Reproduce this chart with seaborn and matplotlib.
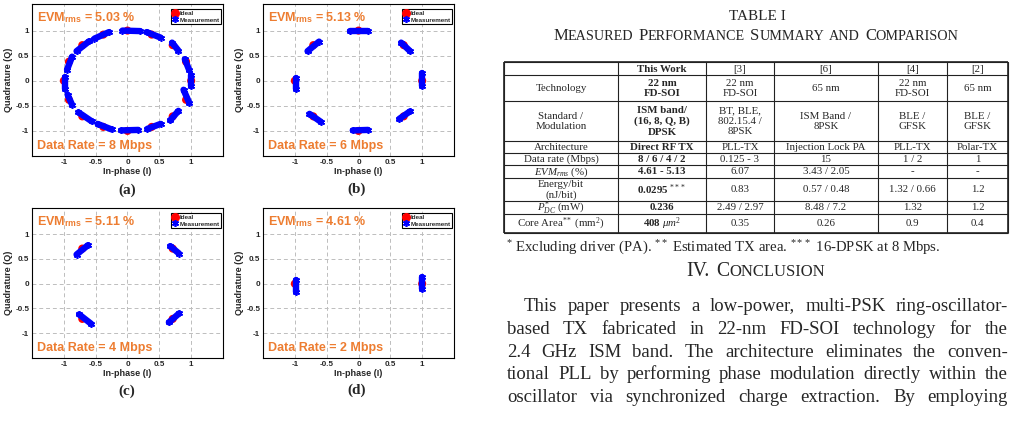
import re
import matplotlib
matplotlib.use("Agg")
import pandas as pd
import matplotlib.pyplot as plt
import seaborn as sns
from matplotlib.lines import Line2D

# -------------------- constellation data --------------------
# ideal symbol positions
a_ideal_i = [1.0, 0.92, 0.71, 0.38, 0.0, -0.38, -0.71, -0.92, -1.0, -0.92, -0.71, -0.38, 0.0, 0.38, 0.71, 0.92]
a_ideal_q = [0.0, 0.38, 0.71, 0.92, 1.0, 0.92, 0.71, 0.38, 0.0, -0.38, -0.71, -0.92, -1.0, -0.92, -0.71, -0.38]
b_ideal_i = [1.0, 0.71, 0.0, -0.71, -1.0, -0.71, 0.0, 0.71]
b_ideal_q = [0.0, 0.71, 1.0, 0.71, 0.0, -0.71, -1.0, -0.71]
c_ideal_i = [0.71, -0.71, -0.71, 0.71]
c_ideal_q = [0.71, 0.71, -0.71, -0.71]
d_ideal_i = [1.0, -1.0]
d_ideal_q = [0.0, 0.0]

# measured clusters: each one is a smeared streak, start (i0, q0) -> end (i1, q1)
a_i0 = [0.99, 0.90, 0.70, 0.30, -0.08, -0.52, -0.80, -0.95, -0.98, -0.94, -0.77, -0.47, -0.10, 0.31, 0.67, 0.88]
a_q0 = [0.12, 0.43, 0.76, 0.97, 1.00, 0.84, 0.59, 0.22, 0.08, -0.28, -0.63, -0.86, -0.99, -0.96, -0.79, -0.18]
a_i1 = [0.99, 0.97, 0.80, 0.52, 0.20, -0.29, -0.60, -0.87, -0.98, -0.87, -0.56, -0.25, 0.17, 0.52, 0.80, 0.97]
a_q1 = [-0.10, 0.21, 0.60, 0.86, 0.99, 0.97, 0.79, 0.48, -0.17, -0.48, -0.81, -0.97, -0.98, -0.86, -0.60, -0.44]

b_i0 = [0.99, 0.67, -0.13, -0.80, -0.98, -0.77, -0.09, 0.64]
b_q0 = [0.15, 0.76, 0.99, 0.59, 0.05, -0.66, -0.99, -0.76]
b_i1 = [0.99, 0.81, 0.15, -0.62, -0.98, -0.59, 0.15, 0.81]
b_q1 = [-0.10, 0.59, 0.99, 0.78, -0.17, -0.82, -0.98, -0.61]

c_i0 = [0.67, -0.80, -0.76, 0.65]
c_q0 = [0.76, 0.59, -0.62, -0.78]
c_i1 = [0.81, -0.62, -0.57, 0.81]
c_q1 = [0.61, 0.78, -0.81, -0.60]

d_i0 = [0.99, -0.98]
d_q0 = [0.13, 0.08]
d_i1 = [0.99, -0.98]
d_q1 = [-0.10, -0.17]

evm_values = ["5.03", "5.13", "5.11", "4.61"]
data_rates = ["8", "6", "4", "2"]
panel_tags = ["(a)", "(b)", "(c)", "(d)"]
tick_vals = [-1, -0.5, 0, 0.5, 1]
tick_labs = ["-1", "-0.5", "0", "0.5", "1"]

# -------------------- table data --------------------
table_header = ["", "This Work", "[3]", "[6]", "[4]", "[2]"]
row_labels = ["Technology", "Standard /\nModulation", "Architecture", "Data rate (Mbps)",
              "$EVM_{rms}$ (%)", "Energy/bit\n(nJ/bit)", "$P_{DC}^{*}$ (mW)",
              "Core Area$^{**}$ (mm$^2$)"]
this_work = ["22 nm\nFD-SOI", "ISM band/\n(16, 8, Q, B)\nDPSK", "Direct RF TX", "8 / 6 / 4 / 2",
             "4.61 - 5.13", "0.0295 $^{***}$", "0.236", "408 $\\mu m^2$"]
ref3 = ["22 nm\nFD-SOI", "BT, BLE,\n802.15.4 /\n8PSK", "PLL-TX", "0.125 - 3", "6.07", "0.83",
        "2.49 / 2.97", "0.35"]
ref6 = ["65 nm", "ISM Band /\n8PSK", "Injection Lock PA", "15", "3.43 / 2.05", "0.57 / 0.48",
        "8.48 / 7.2", "0.26"]
ref4 = ["22 nm\nFD-SOI", "BLE /\nGFSK", "PLL-TX", "1 / 2", "-", "1.32 / 0.66", "1.32", "0.9"]
ref2 = ["65 nm", "BLE /\nGFSK", "Polar-TX", "1", "-", "1.2", "1.2", "0.4"]

footnote = "$^{*}$ Excluding driver (PA). $^{**}$ Estimated TX area. $^{***}$ 16-DPSK at 8 Mbps."
conclusion = [
    "This paper presents a low-power, multi-PSK ring-oscillator-",
    "based TX fabricated in 22-nm FD-SOI technology for the",
    "2.4 GHz ISM band. The architecture eliminates the conven-",
    "tional PLL by performing phase modulation directly within the",
    "oscillator via synchronized charge extraction. By employing",
]

# -------------------- style --------------------
sns.set_style("white")
plt.rcParams["font.family"] = ["Liberation Sans", "DejaVu Sans"]
plt.rcParams["mathtext.fontset"] = "custom"
plt.rcParams["mathtext.rm"] = "Liberation Serif"
plt.rcParams["mathtext.it"] = "Liberation Serif:italic"
plt.rcParams["mathtext.bf"] = "Liberation Serif:bold"
plt.rcParams["mathtext.sf"] = "Liberation Sans:bold"

ORANGE = "#ED7D31"
SERIF = "Liberation Serif"
W, H = 1014, 424

fig = plt.figure(figsize=(W / 100, H / 100), dpi=100)
page = fig.add_axes([0, 0, 1, 1])
page.set_xlim(0, W)
page.set_ylim(H, 0)
page.axis("off")
renderer = fig.canvas.get_renderer()


def width_of(t):
    return t.get_window_extent(renderer).width


# -------------------- constellation panels --------------------
panels = [
    (a_ideal_i, a_ideal_q, a_i0, a_q0, a_i1, a_q1),
    (b_ideal_i, b_ideal_q, b_i0, b_q0, b_i1, b_q1),
    (c_ideal_i, c_ideal_q, c_i0, c_q0, c_i1, c_q1),
    (d_ideal_i, d_ideal_q, d_i0, d_q0, d_i1, d_q1),
]
boxes = [(32, 4, 191, 152), (263, 4, 191, 152), (32, 208, 191, 150), (263, 208, 191, 150)]
captions = [(127, 190), (357, 189), (127, 391), (357, 390)]

for k, (ideal_i, ideal_q, i0, q0, i1, q1) in enumerate(panels):
    l, t, w, h = boxes[k]
    ax = fig.add_axes([l / W, 1 - (t + h) / H, w / W, h / H])

    meas = pd.DataFrame({
        "I": i0 + i1,
        "Q": q0 + q1,
        "cluster": list(range(len(i0))) * 2,
    })

    sns.scatterplot(x=ideal_i, y=ideal_q, ax=ax, color="#FF0000", s=34,
                    edgecolor="none", zorder=2, legend=False)
    sns.lineplot(data=meas, x="I", y="Q", units="cluster", estimator=None, sort=False,
                 ax=ax, color="#0000FF", lw=4.6, solid_capstyle="round",
                 marker=(6, 2, 0), markersize=5, mec="#0000FF", mew=1.1,
                 zorder=3, legend=False)

    ax.set_xlim(-1.5, 1.5)
    ax.set_ylim(-1.5, 1.53)
    ax.set_xticks(tick_vals)
    ax.set_xticklabels(tick_labs)
    ax.set_yticks(tick_vals)
    ax.set_yticklabels(tick_labs)
    ax.tick_params(labelsize=5.8, direction="in", length=2, width=0.6, pad=2)
    for lab in ax.get_xticklabels() + ax.get_yticklabels():
        lab.set_fontweight("bold")
    ax.grid(True, ls=(0, (4, 3)), color="#BDBDBD", lw=0.7)
    ax.set_axisbelow(True)
    for sp in ax.spines.values():
        sp.set_color("black")
        sp.set_linewidth(0.8)
        sp.set_visible(True)
    ax.set_xlabel("In-phase (I)", fontsize=6.5, fontweight="bold", labelpad=1)
    ax.set_ylabel("Quadrature (Q)", fontsize=6.5, fontweight="bold", labelpad=1.5)

    ax.text(0.025, 0.91, "EVM$_{\\mathsf{rms}}$ = " + evm_values[k] + " %", transform=ax.transAxes,
            color=ORANGE, fontsize=9, fontweight="bold", va="center", ha="left")
    ax.text(0.025, 0.065, "Data Rate = " + data_rates[k] + " Mbps", transform=ax.transAxes,
            color=ORANGE, fontsize=9, fontweight="bold", va="center", ha="left")

    handles = [
        Line2D([], [], marker="o", color="#FF0000", ls="", ms=5.5),
        Line2D([], [], marker=(6, 2, 0), color="#0000FF", mec="#0000FF", ls="", ms=5, mew=1.2),
    ]
    leg = ax.legend(handles, ["Ideal", "Measurement"], loc="upper right",
                    bbox_to_anchor=(0.99, 0.965), borderaxespad=0,
                    prop={"size": 4.5, "weight": "bold"}, frameon=True, fancybox=False,
                    framealpha=1, edgecolor="black", borderpad=0.25, handlelength=0.8,
                    handletextpad=0.3, labelspacing=0.15)
    leg.get_frame().set_linewidth(0.8)

    cx, cy = captions[k]
    page.text(cx, cy, panel_tags[k], ha="center", va="center", fontsize=11,
              fontweight="bold", family=SERIF)


# -------------------- table title (small caps) --------------------
def small_caps(s, xc, y, big, small, space=0.25):
    pieces = []
    x = 0.0
    for wi, word in enumerate(s.split(" ")):
        if wi:
            x += space * big * 100 / 72
        for run in re.findall(r"[^a-z]+|[a-z]+", word):
            size = small if run.islower() else big
            o = page.text(x, y, run.upper(), fontsize=size, family=SERIF,
                          ha="left", va="baseline")
            x += width_of(o)
            pieces.append(o)
    shift = xc - x / 2
    for o in pieces:
        o.set_x(o.get_position()[0] + shift)


page.text(757, 17, "TABLE I", ha="center", va="center", fontsize=11, family=SERIF)
small_caps("Measured Performance Summary and Comparison", 756, 40, 12, 10.2, space=0.3)

# -------------------- table --------------------
col_edges = [504, 618, 706, 774, 878, 947, 1008]
row_edges = [62, 75, 101, 141, 153, 165, 178, 201, 214, 233]
page.hlines(row_edges, col_edges[0], col_edges[-1], color="#222222", lw=0.8)
page.vlines(col_edges, row_edges[0], row_edges[-1], color="#222222", lw=0.8)
page.hlines([row_edges[0], row_edges[-1]], col_edges[0], col_edges[-1], color="#222222", lw=1.2)
page.vlines([col_edges[0], col_edges[-1]], row_edges[0], row_edges[-1], color="#222222", lw=1.2)

columns = [row_labels, this_work, ref3, ref6, ref4, ref2]
for c in range(6):
    xc = (col_edges[c] + col_edges[c + 1]) / 2
    bold = "bold" if c == 1 else "normal"
    page.text(xc, (row_edges[0] + row_edges[1]) / 2 + 0.5, table_header[c], ha="center",
              va="center", fontsize=7.8, family=SERIF, fontweight=bold)
    for r, cell in enumerate(columns[c]):
        yc = (row_edges[r + 1] + row_edges[r + 2]) / 2 + 0.5
        page.text(xc, yc, cell, ha="center", va="center", fontsize=7.8, family=SERIF,
                  fontweight=bold, linespacing=1.2)

page.text(506, 248, footnote, ha="left", va="center", fontsize=10.6, family=SERIF)

# -------------------- conclusion --------------------
small_caps("IV. Conclusion", 756, 276, 14.2, 12, space=0.35)


def justify(line, x0, x1, y, size):
    words = line.split()
    objs = [page.text(0, y, wd, fontsize=size, family=SERIF, ha="left", va="baseline")
            for wd in words]
    widths = [width_of(o) for o in objs]
    gap = (x1 - x0 - sum(widths)) / (len(words) - 1)
    x = x0
    for o, wd in zip(objs, widths):
        o.set_x(x)
        x += wd + gap


for n, line in enumerate(conclusion):
    justify(line, 524 if n == 0 else 507, 1008, 311 + 22.8 * n, 13.5)

fig.savefig("out.png", dpi=100)
